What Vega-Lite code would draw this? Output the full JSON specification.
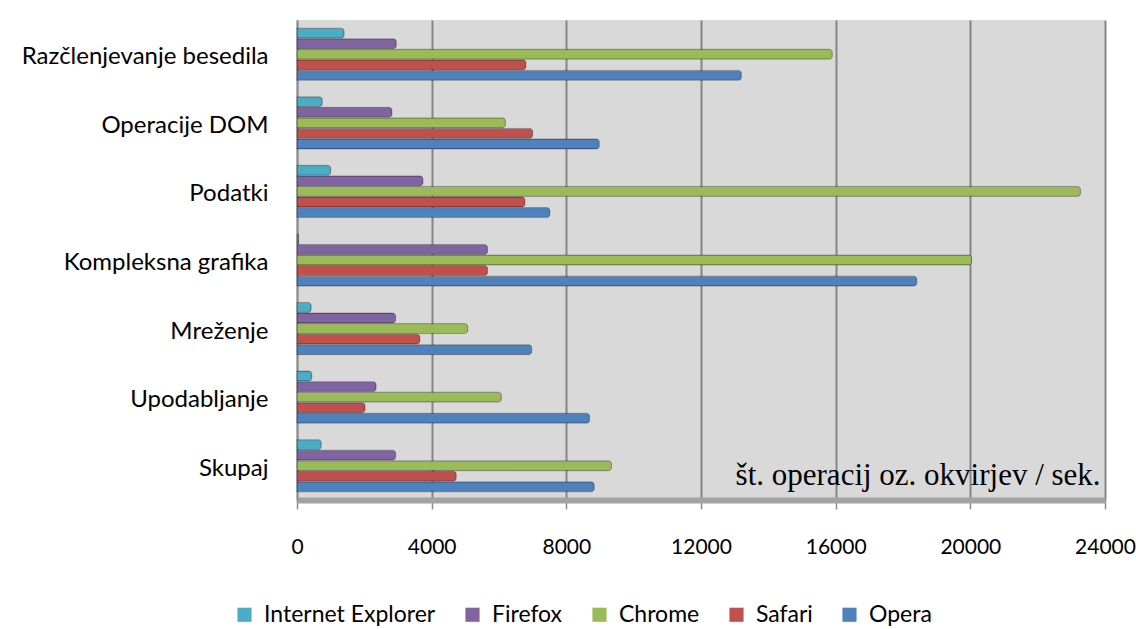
{
  "$schema": "https://vega.github.io/schema/vega-lite/v6.json",
  "width": 808,
  "height": 480,
  "autosize": "none",
  "padding": {"left": 297, "top": 20, "right": 31, "bottom": 129},
  "background": "#ffffff",
  "config": {
    "view": {"fill": "#d9d9d9", "stroke": null},
    "font": "Lato"
  },
  "data": {
    "values": [
      {"kategorija": "Razčlenjevanje besedila", "brskalnik": "Internet Explorer", "vrednost": 1400},
      {"kategorija": "Razčlenjevanje besedila", "brskalnik": "Firefox", "vrednost": 2950},
      {"kategorija": "Razčlenjevanje besedila", "brskalnik": "Chrome", "vrednost": 15900},
      {"kategorija": "Razčlenjevanje besedila", "brskalnik": "Safari", "vrednost": 6800},
      {"kategorija": "Razčlenjevanje besedila", "brskalnik": "Opera", "vrednost": 13200},
      {"kategorija": "Operacije DOM", "brskalnik": "Internet Explorer", "vrednost": 750},
      {"kategorija": "Operacije DOM", "brskalnik": "Firefox", "vrednost": 2820},
      {"kategorija": "Operacije DOM", "brskalnik": "Chrome", "vrednost": 6190},
      {"kategorija": "Operacije DOM", "brskalnik": "Safari", "vrednost": 7000},
      {"kategorija": "Operacije DOM", "brskalnik": "Opera", "vrednost": 8980},
      {"kategorija": "Podatki", "brskalnik": "Internet Explorer", "vrednost": 1000},
      {"kategorija": "Podatki", "brskalnik": "Firefox", "vrednost": 3740},
      {"kategorija": "Podatki", "brskalnik": "Chrome", "vrednost": 23270},
      {"kategorija": "Podatki", "brskalnik": "Safari", "vrednost": 6770},
      {"kategorija": "Podatki", "brskalnik": "Opera", "vrednost": 7510},
      {"kategorija": "Kompleksna grafika", "brskalnik": "Internet Explorer", "vrednost": 50},
      {"kategorija": "Kompleksna grafika", "brskalnik": "Firefox", "vrednost": 5660},
      {"kategorija": "Kompleksna grafika", "brskalnik": "Chrome", "vrednost": 20040},
      {"kategorija": "Kompleksna grafika", "brskalnik": "Safari", "vrednost": 5660},
      {"kategorija": "Kompleksna grafika", "brskalnik": "Opera", "vrednost": 18410},
      {"kategorija": "Mreženje", "brskalnik": "Internet Explorer", "vrednost": 420},
      {"kategorija": "Mreženje", "brskalnik": "Firefox", "vrednost": 2930},
      {"kategorija": "Mreženje", "brskalnik": "Chrome", "vrednost": 5070},
      {"kategorija": "Mreženje", "brskalnik": "Safari", "vrednost": 3650},
      {"kategorija": "Mreženje", "brskalnik": "Opera", "vrednost": 6970},
      {"kategorija": "Upodabljanje", "brskalnik": "Internet Explorer", "vrednost": 440},
      {"kategorija": "Upodabljanje", "brskalnik": "Firefox", "vrednost": 2350},
      {"kategorija": "Upodabljanje", "brskalnik": "Chrome", "vrednost": 6070},
      {"kategorija": "Upodabljanje", "brskalnik": "Safari", "vrednost": 2020},
      {"kategorija": "Upodabljanje", "brskalnik": "Opera", "vrednost": 8690},
      {"kategorija": "Skupaj", "brskalnik": "Internet Explorer", "vrednost": 720},
      {"kategorija": "Skupaj", "brskalnik": "Firefox", "vrednost": 2930},
      {"kategorija": "Skupaj", "brskalnik": "Chrome", "vrednost": 9340},
      {"kategorija": "Skupaj", "brskalnik": "Safari", "vrednost": 4730},
      {"kategorija": "Skupaj", "brskalnik": "Opera", "vrednost": 8830}
    ]
  },
  "encoding": {
    "y": {
      "field": "kategorija",
      "type": "nominal",
      "sort": ["Razčlenjevanje besedila", "Operacije DOM", "Podatki", "Kompleksna grafika", "Mreženje", "Upodabljanje", "Skupaj"],
      "scale": {"paddingInner": 0.24, "paddingOuter": 0.12},
      "axis": {
        "title": null,
        "ticks": false,
        "labelFontSize": 24,
        "labelColor": "#000000",
        "labelPadding": 29,
        "labelOffset": 3,
        "labelLimit": 500,
        "domainColor": "#8c8c8c",
        "domainWidth": 1.5
      }
    },
    "x": {
      "field": "vrednost",
      "type": "quantitative",
      "scale": {"domain": [0, 24000], "nice": false},
      "axis": {
        "title": null,
        "values": [0, 4000, 8000, 12000, 16000, 20000, 24000],
        "format": "d",
        "labelFontSize": 21,
        "labelColor": "#000000",
        "labelPadding": 27,
        "tickSize": 9,
        "tickColor": "#8c8c8c",
        "tickWidth": 1.5,
        "domainColor": "#a3a3a3",
        "domainWidth": 6,
        "grid": true,
        "gridColor": "#868686",
        "gridWidth": 2,
        "labelFlush": false
      }
    }
  },
  "layer": [
    {
      "mark": {"type": "bar", "cornerRadiusEnd": 3, "stroke": "#000000", "strokeOpacity": 0.28, "strokeWidth": 1},
      "encoding": {
        "yOffset": {
          "field": "brskalnik",
          "type": "nominal",
          "sort": ["Internet Explorer", "Firefox", "Chrome", "Safari", "Opera"],
          "scale": {"paddingInner": 0.06}
        },
        "color": {
          "field": "brskalnik",
          "type": "nominal",
          "sort": ["Internet Explorer", "Firefox", "Chrome", "Safari", "Opera"],
          "scale": {
            "domain": ["Internet Explorer", "Firefox", "Chrome", "Safari", "Opera"],
            "range": ["#4bacc6", "#8064a2", "#9bbb59", "#c0504d", "#4f81bd"]
          },
          "legend": {
            "title": null,
            "orient": "none",
            "direction": "horizontal",
            "columns": 5,
            "legendX": -64,
            "legendY": 583,
            "symbolType": "square",
            "symbolSize": 200,
            "symbolStrokeWidth": 0,
            "labelFontSize": 23,
            "labelColor": "#000000",
            "labelOffset": 8,
            "columnPadding": 25,
            "labelLimit": 300
          }
        }
      }
    },
    {
      "transform": [{"filter": "datum.kategorija == 'Skupaj' && datum.brskalnik == 'Opera'"}],
      "mark": {"type": "text", "font": "Liberation Serif", "fontSize": 31, "align": "right", "baseline": "alphabetic", "dy": 19, "color": "#000000"},
      "encoding": {
        "x": {"datum": 23870, "type": "quantitative"},
        "y": {"field": "kategorija", "type": "nominal"},
        "text": {"value": "št. operacij oz. okvirjev / sek."}
      }
    }
  ]
}
